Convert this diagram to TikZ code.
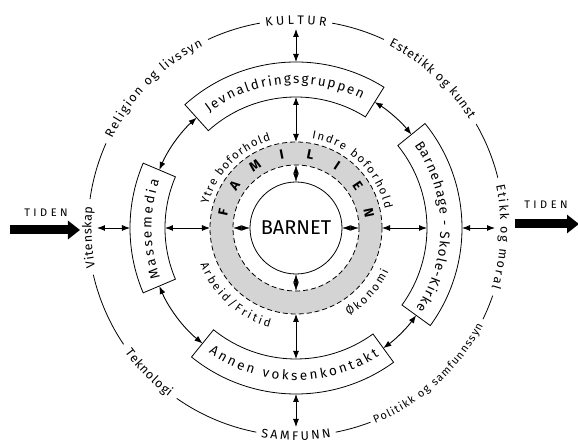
\documentclass[tikz,border=0pt]{standalone}
\usepackage{fontspec}
\setmainfont{Fira Sans}
\usetikzlibrary{arrows.meta,decorations.text}
\newcommand\hfnt{\fontsize{12.5}{14}\selectfont}
\newcommand\pfnt{\fontsize{11}{13}\selectfont}
\newcommand\bfnt{\fontsize{13.5}{15}\selectfont}
\newcommand\sfnt{\fontsize{11.5}{13}\selectfont}
\newcommand\cfnt{\fontsize{12.5}{14}\selectfont}
\begin{document}
\begin{tikzpicture}[x=1pt,y=1pt,line width=0.8pt,
  conn/.style={line width=0.9pt,{Latex[length=8pt,width=6pt]}-{Latex[length=8pt,width=6pt]}},
  dia/.style={line width=0.6pt,{Latex[length=8.5pt,width=5.5pt]}-{Latex[length=8.5pt,width=5.5pt]}},
  ringc/.style={circle,inner sep=0pt,outer sep=0pt},
  sector/.style={draw,fill=white,line width=0.8pt},
  dashc/.style={draw,dash pattern=on 5pt off 3pt,line width=0.8pt},
  tiden/.style={line width=9pt,-{Triangle[length=12pt,width=18pt]}},
  curvetxt/.style={decorate,decoration={text along path,text align=fit to path,text={#1}}},
  famletter/.style={font=\bfseries\fontsize{13.5}{14}\selectfont,inner sep=0pt},
]
\useasboundingbox (-296,-215) rectangle (282,228);

% ---- outer circle (interrupted by labels)
\foreach \a/\b in {100/115,156/172,193/214,235/259,281/291,334/341,14/30,65/80}
  \draw (\a:208) arc[start angle=\a,end angle=\b,radius=208pt];

% ---- family ring
\fill[black!17,even odd rule] (0,0) circle[radius=86pt] circle[radius=63pt];
\node[ringc,dashc,minimum size=172pt] (famout) at (0,0) {};
\node[ringc,dashc,minimum size=126pt] (famin) at (0,0) {};
\node[ringc,draw,minimum size=92pt,font=\fontsize{20}{21}\selectfont] (barnet) at (0,0) {BARNET};

% ---- invisible guide circles for arrow ends
\node[ringc,minimum size=262pt] (boxin) at (0,0) {};
\node[ringc,minimum size=332pt] (boxout) at (0,0) {};
\node[ringc,minimum size=398pt] (outer) at (0,0) {};

% ---- curved boxes
\foreach \a/\b in {58/132,157/203,-36/39,-129/-54}
  \draw[sector] (\a:131) arc[start angle=\a,end angle=\b,radius=131pt]
     -- (\b:166) arc[start angle=\b,end angle=\a,radius=166pt] -- cycle;

% ---- arcs between boxes
\coordinate (jl) at (132:148.5); \coordinate (mt) at (157:148.5);
\coordinate (mb) at (203:148.5); \coordinate (al) at (231:148.5);
\coordinate (ar) at (-54:148.5); \coordinate (bb) at (-36:148.5);
\coordinate (bt) at (39:148.5);  \coordinate (jr) at (58:148.5);
\draw[conn] (jl) arc[start angle=132,end angle=157,radius=148.5pt];
\draw[conn] (mb) arc[start angle=203,end angle=231,radius=148.5pt];
\draw[conn] (ar) arc[start angle=-54,end angle=-36,radius=148.5pt];
\draw[conn] (bt) arc[start angle=39,end angle=58,radius=148.5pt];

% ---- radial arrows
\foreach \d in {north,south,east,west}{
  \draw[conn] (boxout.\d) -- (outer.\d);
  \draw[conn] (boxin.\d) -- (famout.\d);
  \draw[dia] (barnet.\d) -- (famin.\d);
}

% ---- FAMILIEN
\foreach \l [count=\i from 0] in {F,A,M,I,L,I,E,N}
  \node[famletter,rotate={168-22.3*\i-90}] (fam\i) at ({168-22.3*\i}:74.5) {\l};

% ---- outer labels
\path[curvetxt={|\cfnt|KULTUR}] (98.5:203.5) arc[start angle=98.5,end angle=81.5,radius=203.5pt];
\path[curvetxt={|\cfnt|SAMFUNN}] (260.5:212.5) arc[start angle=260.5,end angle=279.5,radius=212.5pt];
\path[curvetxt={|\hfnt|Religion og livssyn}] (154:204.5) arc[start angle=154,end angle=117,radius=204.5pt];
\path[curvetxt={|\hfnt|Estetikk og kunst}] (63:204.5) arc[start angle=63,end angle=32,radius=204.5pt];
\path[curvetxt={|\hfnt|Vitenskap}] (191:204.5) arc[start angle=191,end angle=174,radius=204.5pt];
\path[curvetxt={|\hfnt|Etikk og moral}] (12:204.5) arc[start angle=12,end angle=-17,radius=204.5pt];
\path[curvetxt={|\hfnt|Teknologi}] (216:211.5) arc[start angle=216,end angle=233,radius=211.5pt];
\path[curvetxt={|\pfnt|Politikk og samfunnssyn}] (-68:211) arc[start angle=-68,end angle=-27.5,radius=211pt];

% ---- box labels
\path[curvetxt={|\bfnt|Jevnaldringsgruppen}] (127:144.5) arc[start angle=127,end angle=63,radius=144.5pt];
\path[curvetxt={|\bfnt|Massemedia}] (200:144.5) arc[start angle=200,end angle=161,radius=144.5pt];
\path[curvetxt={|\bfnt|Barnehage - Skole-Kirke}] (35:144.5) arc[start angle=35,end angle=-34,radius=144.5pt];
\path[curvetxt={|\bfnt|Annen voksenkontakt}] (-125:152.5) arc[start angle=-125,end angle=-57,radius=152.5pt];

% ---- family ring labels
\path[curvetxt={|\sfnt|Ytre boforhold}] (165:91) arc[start angle=165,end angle=106,radius=91pt];
\path[curvetxt={|\sfnt|Indre boforhold}] (80:91) arc[start angle=80,end angle=12,radius=91pt];
\path[curvetxt={|\sfnt|Arbeid/Fritid}] (201:102.5) arc[start angle=201,end angle=255,radius=102.5pt];
\path[curvetxt={|\sfnt|Økonomi}] (-59:102.5) arc[start angle=-59,end angle=-25,radius=102.5pt];

% ---- TIDEN arrows
\coordinate (tl0) at (-286,-2); \coordinate (tl1) at (-216,-2);
\coordinate (tr0) at (219,4);   \coordinate (tr1) at (283,4);
\draw[tiden] (tl0) -- (tl1);
\draw[tiden] (tr0) -- (tr1);
\node[font=\fontsize{11}{12}\selectfont] (tidenl) at (-250,15) {T\kern3.5pt I\kern3.5pt D\kern3.5pt E\kern3.5pt N};
\node[font=\fontsize{11}{12}\selectfont] (tidenr) at (250,23) {T\kern3.5pt I\kern3.5pt D\kern3.5pt E\kern3.5pt N};
\end{tikzpicture}
\end{document}
